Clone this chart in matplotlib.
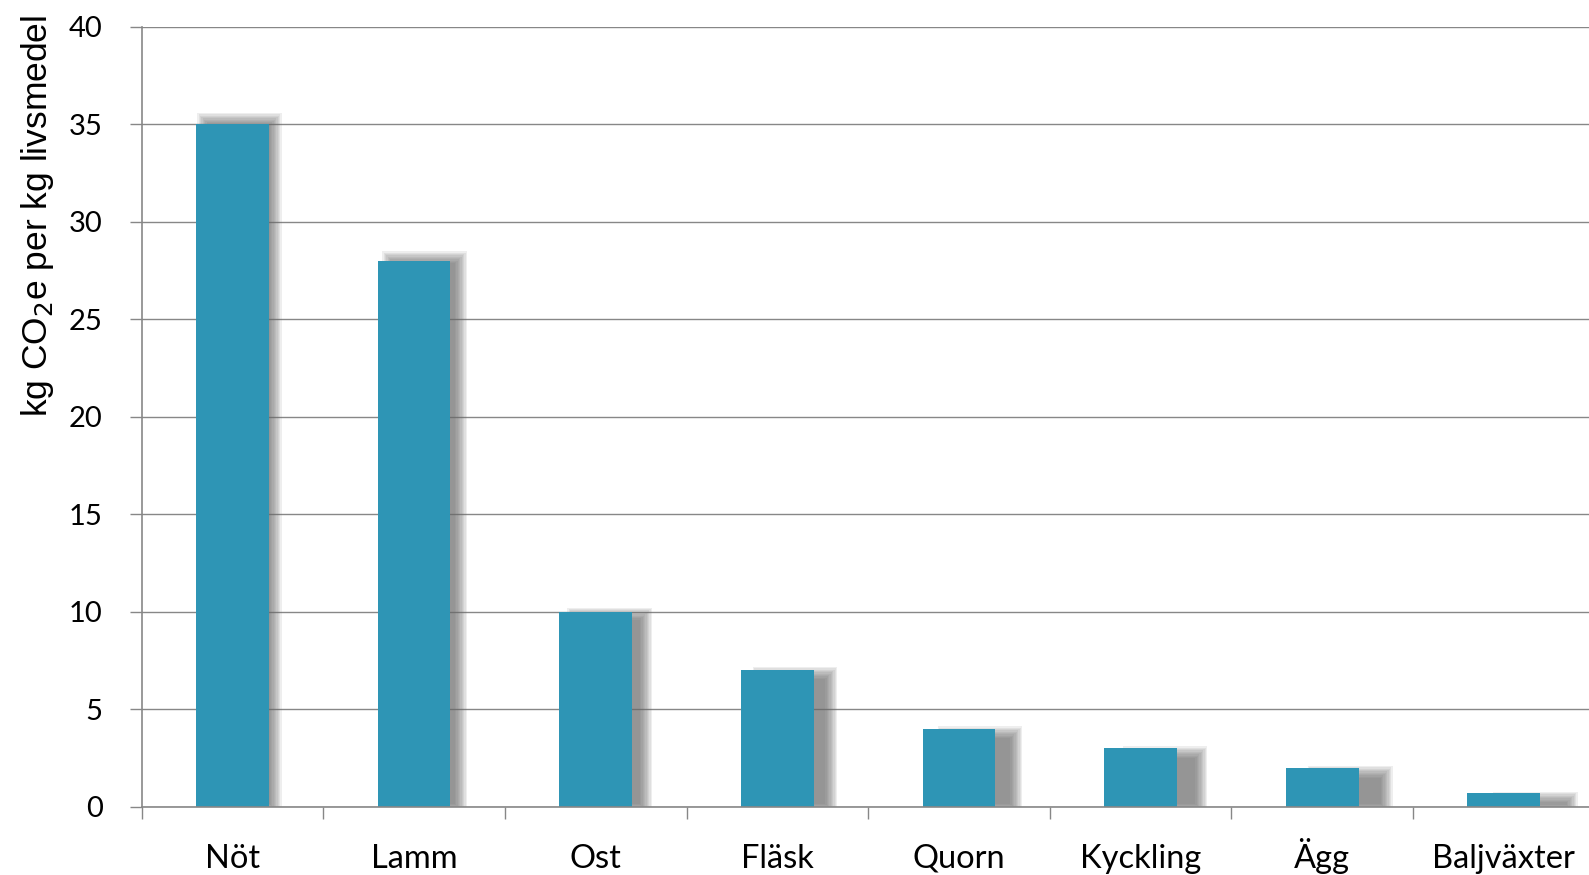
import matplotlib
matplotlib.use("Agg")
import matplotlib.pyplot as plt
from matplotlib.patches import Rectangle

# data
foods = ["Nöt", "Lamm", "Ost", "Fläsk", "Quorn", "Kyckling", "Ägg", "Baljväxter"]
co2e = [35, 28, 10, 7, 4, 3, 2, 0.7]
yticks = [0, 5, 10, 15, 20, 25, 30, 35, 40]

plt.rcParams["font.family"] = ["Lato", "DejaVu Sans"]

W, H = 1589, 875
fig = plt.figure(figsize=(W / 100, H / 100), dpi=100)
# plot area runs a little past the right edge, as in the reference
ax = fig.add_axes([141.7 / W, 1 - 806.7 / H, 1452.9 / W, 780 / H])

bar_color = "#2e95b5"
grey = "#878787"
px = 1 / 181.6  # one pixel in x data units
py = 40 / 780  # one pixel in y data units

x = list(range(len(foods)))
width = 0.40

# soft drop shadow, shifted further right for bars further right
layers = 10
for i, (xi, v) in enumerate(zip(x, co2e)):
    dx = (7 + 3.5 * i) * px
    left = xi - width / 2 + dx
    top = v * 1.015 - 0.25
    for k in range(layers):
        g = 6 - 12 * k / (layers - 1)  # grow from +6 px to -6 px
        ax.add_patch(Rectangle(
            (left - g * px, -0.15 - g * py),
            width + 2 * g * px,
            top + 0.15 + 2 * g * py,
            facecolor="#6a6a6a", edgecolor="none", alpha=0.11, zorder=1,
        ))

ax.bar(x, co2e, width=width, color=bar_color, zorder=2)

ax.set_xlim(-0.5, len(foods) - 0.5)
ax.set_ylim(0, 40)
ax.set_yticks(yticks)
ax.set_yticklabels([str(t) for t in yticks])
ax.yaxis.grid(True, color=grey, linewidth=1.0, zorder=0)
ax.set_axisbelow(True)

# category ticks on the boundaries, labels in the middle
ax.set_xticks([i - 0.5 for i in range(len(foods) + 1)])
ax.set_xticklabels([])
ax.set_xticks(x, minor=True)
ax.set_xticklabels(foods, minor=True)
ax.tick_params(axis="x", which="major", length=8.5, width=1.0, color=grey)
ax.tick_params(axis="x", which="minor", length=0, pad=44, labelsize=23.5)
for lab in ax.get_xticklabels(minor=True):
    lab.set_verticalalignment("baseline")
ax.tick_params(axis="y", length=9, width=1.0, color=grey, pad=19, labelsize=21)

for side in ["top", "right"]:
    ax.spines[side].set_visible(False)
for side in ["left", "bottom"]:
    ax.spines[side].set_color(grey)
    ax.spines[side].set_linewidth(1.2)

fig.text(37.7 / W, 1 - 216 / H, "kg CO$_2$e per kg livsmedel",
         rotation=90, ha="center", va="center", fontsize=25.5,
         family=["Liberation Sans", "DejaVu Sans"])

fig.savefig("out.png", dpi=100)
